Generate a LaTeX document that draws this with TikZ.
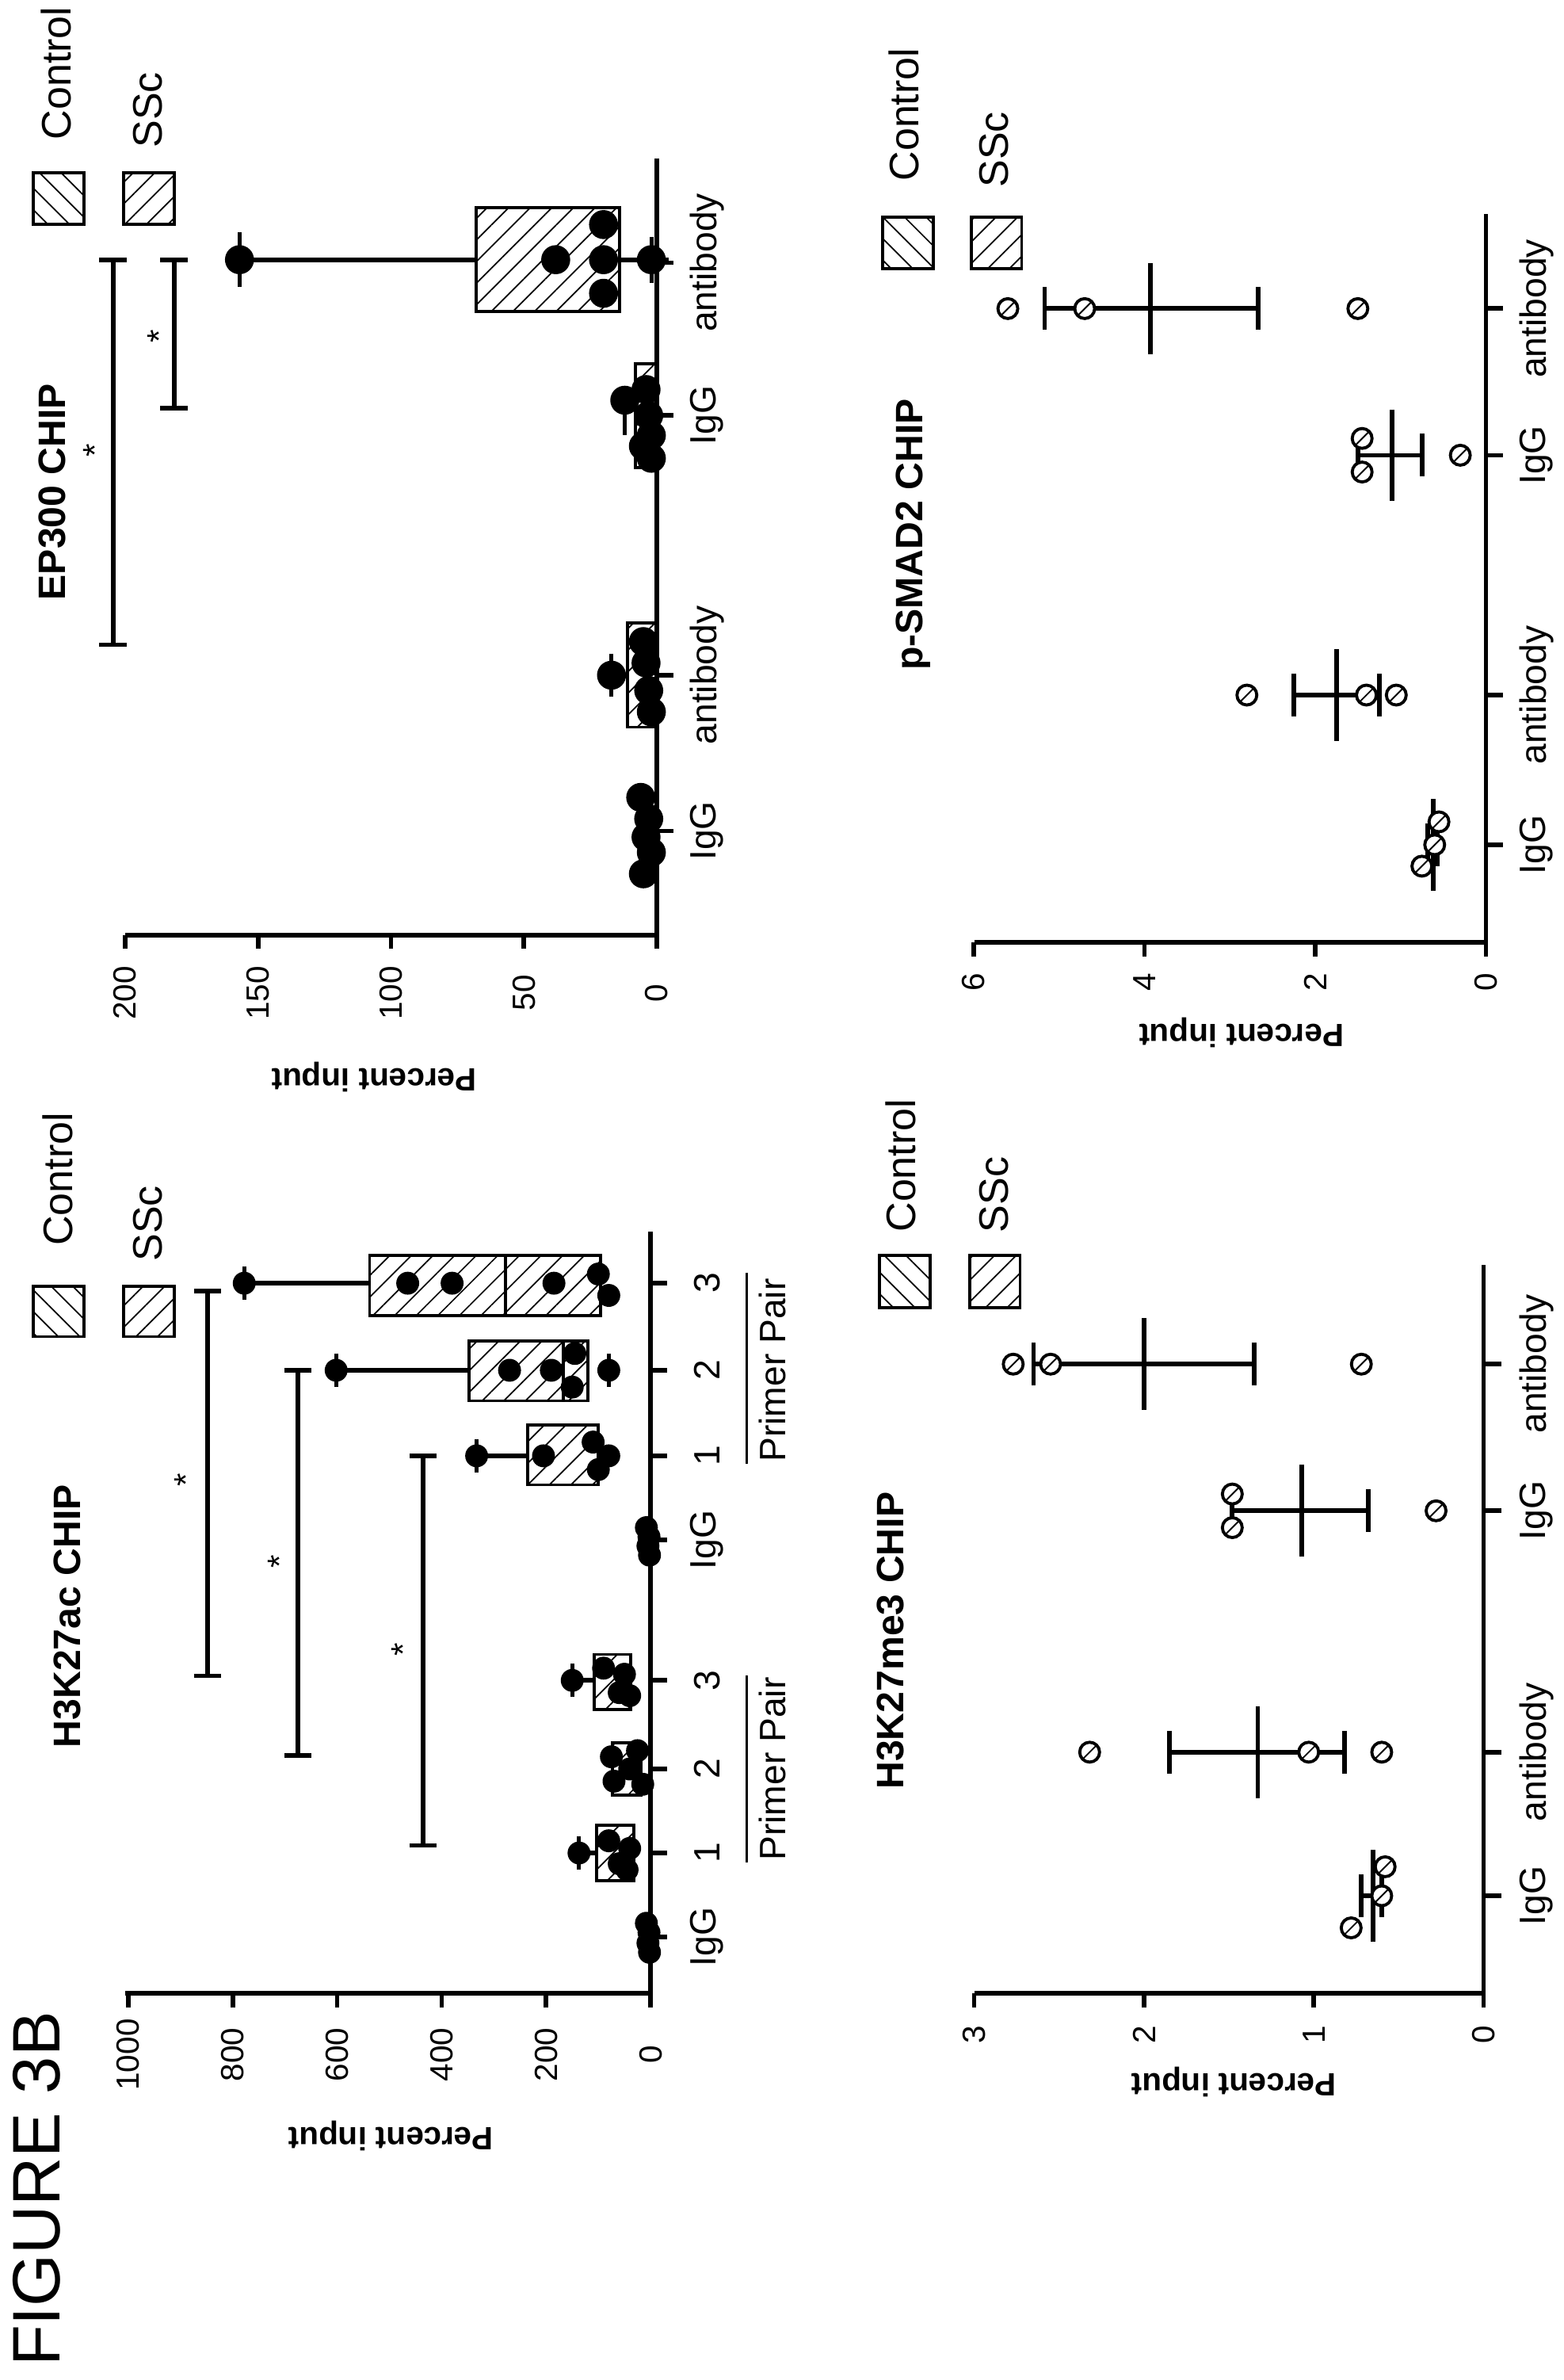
\documentclass[tikz,border=0pt]{standalone}
\usepackage{fontspec}
\setmainfont{Liberation Sans}
\usetikzlibrary{patterns.meta}
\begin{document}
\begin{tikzpicture}[x=1pt,y=-1pt,
  declare function={pA(\v)=426-0.342*\v; pB(\v)=430-1.74*\v; pC(\v)=971.5-111.2*\v; pD(\v)=973-55.9*\v;},
  ax/.style={line width=3pt},
  eb/.style={line width=3pt},
  lab/.style={font=\fontsize{24}{26}\selectfont, rotate=90},
  leg/.style={font=\fontsize{27}{29}\selectfont, rotate=90},
  tl/.style={font=\fontsize{21}{23}\selectfont, rotate=90},
  ttl/.style={font=\bfseries\fontsize{25}{28}\selectfont, rotate=90},
  yl/.style={font=\bfseries\fontsize{21}{23}\selectfont, rotate=180},
  dot/.style={circle, fill=black, inner sep=0pt, minimum size=15pt},
  bdot/.style={circle, fill=black, inner sep=0pt, minimum size=19pt},
  hc/.style={circle, draw=black, line width=2pt, fill=white, inner sep=0pt, minimum size=13pt,
     path picture={\draw[line width=1pt] (path picture bounding box.south west) -- (path picture bounding box.north east);}},
  ctl/.style={pattern={Lines[angle=-45,distance=10pt,line width=0.9pt]}},
  ssc/.style={pattern={Lines[angle=45,distance=10pt,line width=0.9pt]}},
  bx/.style={line width=2pt},
  star/.style={font=\fontsize{22}{24}\selectfont, rotate=90}
]
\useasboundingbox (0,0) rectangle (1024,1558);
\newcommand\mybar[5]{%
  \draw[eb] ({#1(#4)},#2) -- ({#1(#5)},#2);
  \draw[eb] ({#1(#3)},{#2-30}) -- ({#1(#3)},{#2+30});
  \draw[eb] ({#1(#4)},{#2-14}) -- ({#1(#4)},{#2+14});
  \draw[eb] ({#1(#5)},{#2-14}) -- ({#1(#5)},{#2+14});}
\newcommand\bracket[3]{% x, y1, y2
  \draw[eb] (#1,#2) -- (#1,#3);
  \draw[eb] ({#1-9},#2) -- ({#1+9},#2);
  \draw[eb] ({#1-9},#3) -- ({#1+9},#3);}
\newcommand\wend[3]{% fn, v, y : whisker end dot with cap
  \draw[line width=2.5pt] ({#1(#2)},{#3-11}) -- ({#1(#2)},{#3+11});
  \node[dot] at ({#1(#2)},#3) {};}

% ================= FIGURE label
\node[font=\fontsize{44}{48}\selectfont, rotate=90] (fig) at (24,1433) {FIGURE 3B};

% ================= Panel 1: H3K27ac
\draw[ax] (82,1305) -- (426,1305) -- (426,806);
\foreach \v/\t in {0/0,200/200,400/400,600/600,800/800,1000/1000}{
  \draw[ax] ({pA(\v)},1305) -- ({pA(\v)},1314);
  \node[tl] at ({pA(\v)},1345) {\t};}
\foreach \y/\t in {1268/IgG,1213/1,1158/2,1100/3,1008/IgG,953/1,897/2,840/3}{
  \draw[ax] (426,\y) -- (437,\y);
  \node[lab] at (463,\y) {\t};}
\node[lab] (pp1) at (506,1158) {Primer Pair};
\draw[line width=1.5pt] (489,1097) -- (489,1219);
\node[lab] (pp2) at (506,897) {Primer Pair};
\draw[line width=1.5pt] (489,833) -- (489,958);
\node[ttl] (t1) at (44,1058) {H3K27ac CHIP};
\node[yl] (y1) at (256,1398) {Percent input};
\draw[bx,ctl] (22,842) rectangle (55,875);
\draw[bx,ssc] (81,842) rectangle (114,875);
\node[leg] (c1) at (38,772) {Control};
\node[leg] (s1) at (97,801) {SSc};
\bracket{136}{845}{1097}\node[star] at (122,969) {*};
\bracket{195}{897}{1149}\node[star] at (183,1022) {*};
\bracket{277}{953}{1208}\node[star] at (264,1080) {*};
% left group
\foreach \v/\y in {8/1259,3/1265,5/1272,2/1278}{\node[dot] at ({pA(\v)},\y) {};}
\draw[bx,ssc] ({pA(103)},1195) rectangle ({pA(32)},1231);
\draw[eb] ({pA(137)},1213) -- ({pA(103)},1213);
\wend{pA}{137}{1213}
\foreach \v/\y in {80/1205,60/1220,40/1210,45/1224}{\node[dot] at ({pA(\v)},\y) {};}
\draw[bx,ssc] ({pA(73)},1141) rectangle ({pA(18)},1175);
\foreach \v/\y in {75/1150,70/1166,40/1158,25/1146,15/1168}{\node[dot] at ({pA(\v)},\y) {};}
\draw[bx,ssc] ({pA(108)},1083) rectangle ({pA(38)},1119);
\draw[eb] ({pA(150)},1100) -- ({pA(108)},1100);
\wend{pA}{150}{1100}
\foreach \v/\y in {90/1092,60/1108,50/1096,40/1110}{\node[dot] at ({pA(\v)},\y) {};}
% right group
\foreach \v/\y in {8/1000,3/1006,5/1012,2/1018}{\node[dot] at ({pA(\v)},\y) {};}
\draw[bx,ssc] ({pA(235)},933) rectangle ({pA(100)},972);
\draw[eb] ({pA(333)},953) -- ({pA(235)},953);
\wend{pA}{333}{953}
\foreach \v/\y in {205/953,110/944,100/962,80/953}{\node[dot] at ({pA(\v)},\y) {};}
\draw[bx,ssc] ({pA(348)},878) rectangle ({pA(120)},917);
\draw[bx] ({pA(167)},878) -- ({pA(167)},917);
\draw[eb] ({pA(602)},897) -- ({pA(348)},897);
\wend{pA}{602}{897}
\wend{pA}{80}{897}
\foreach \v/\y in {270/897,190/897,145/886,150/908}{\node[dot] at ({pA(\v)},\y) {};}
\draw[bx,ssc] ({pA(538)},822) rectangle ({pA(96)},861);
\draw[bx] ({pA(278)},822) -- ({pA(278)},861);
\draw[eb] ({pA(778)},840) -- ({pA(538)},840);
\wend{pA}{778}{840}
\foreach \v/\y in {465/840,380/840,185/840,100/834,80/848}{\node[dot] at ({pA(\v)},\y) {};}

% ================= Panel 2: EP300
\draw[ax] (82,612) -- (430,612) -- (430,104);
\foreach \v in {0,50,100,150,200}{
  \draw[ax] ({pB(\v)},612) -- ({pB(\v)},621);
  \node[tl] at ({pB(\v)},650) {\v};}
\foreach \y/\t in {544/IgG,442/antibody,272/IgG,172/antibody}{
  \draw[ax] (430,\y) -- (441,\y);
  \node[lab] at (463,\y) {\t};}
\node[ttl] (t2) at (34,322) {EP300 CHIP};
\node[yl] (y2) at (245,705) {Percent input};
\draw[bx,ctl] (22,113) rectangle (55,147);
\draw[bx,ssc] (81,113) rectangle (114,147);
\node[leg] (c2) at (37,48) {Control};
\node[leg] (s2) at (97,72) {SSc};
\bracket{74}{170}{422}\node[star] at (62,295) {*};
\bracket{114}{170}{267}\node[star] at (104,220) {*};
% data
\draw[bx,ssc] ({pB(68)},136) rectangle ({pB(14)},204);
\draw[eb] ({pB(157)},170) -- ({pB(68)},170);
\draw[eb] ({pB(14)},170) -- (438,170);
\draw[line width=2.5pt] ({pB(157)},152) -- ({pB(157)},188);
\node[bdot] at ({pB(157)},170) {};
\node[bdot] at ({pB(38)},170) {};
\foreach \y in {147,170,192}{\node[bdot] at ({pB(20)},\y) {};}
\draw[line width=2.5pt] ({pB(2)},155) -- ({pB(2)},185);
\node[bdot] at ({pB(2)},170) {};
\draw[bx,ssc] ({pB(8)},238) rectangle ({pB(0)},306);
\draw[line width=2.5pt] ({pB(12)},258) -- ({pB(12)},285);
\foreach \v/\y in {12/262,4/255,3/272,2/285,5/292,2/300}{\node[bdot] at ({pB(\v)},\y) {};}
\draw[bx,ssc] ({pB(11)},408) rectangle ({pB(0)},476);
\draw[line width=2.5pt] ({pB(17)},428) -- ({pB(17)},456);
\foreach \v/\y in {17/442,5/420,3/452,2/466,4/434}{\node[bdot] at ({pB(\v)},\y) {};}
\draw[line width=2.5pt] ({pB(6)},530) -- ({pB(6)},558);
\foreach \v/\y in {6/522,3/536,4/548,2/558,5/572}{\node[bdot] at ({pB(\v)},\y) {};}

% ================= Panel 3: H3K27me3
\draw[ax] (638,1305) -- (971.5,1305) -- (971.5,828);
\foreach \v in {0,1,2,3}{
  \draw[ax] ({pC(\v)},1305) -- ({pC(\v)},1314);
  \node[tl] at ({pC(\v)},1332) {\v};}
\foreach \y/\t in {1241/IgG,1147/antibody,989/IgG,893/antibody}{
  \draw[ax] (971.5,\y) -- (983,\y);
  \node[lab] at (1006,\y) {\t};}
\node[ttl] (t3) at (583,1074) {H3K27me3 CHIP};
\node[yl] (y3) at (808,1363) {Percent input};
\draw[bx,ctl] (576,822) rectangle (609,856);
\draw[bx,ssc] (635,822) rectangle (668,856);
\node[leg] (c3) at (590,763) {Control};
\node[leg] (s3) at (651,782) {SSc};
\mybar{pC}{1241}{0.65}{0.60}{0.72}
\foreach \v/\y in {0.58/1222,0.6/1241,0.78/1262}{\node[hc] at ({pC(\v)},\y) {};}
\mybar{pC}{1147}{1.33}{0.82}{1.85}
\foreach \v in {2.32,1.03,0.6}{\node[hc] at ({pC(\v)},1147) {};}
\mybar{pC}{989}{1.07}{0.68}{1.48}
\foreach \v/\y in {1.48/978,1.48/1000,0.28/989}{\node[hc] at ({pC(\v)},\y) {};}
\mybar{pC}{893}{2.0}{1.35}{2.65}
\foreach \v in {2.77,2.55,0.72}{\node[hc] at ({pC(\v)},893) {};}

% ================= Panel 4: p-SMAD2
\draw[ax] (638,617) -- (973,617) -- (973,140);
\foreach \v in {0,2,4,6}{
  \draw[ax] ({pD(\v)},617) -- ({pD(\v)},626);
  \node[tl] at ({pD(\v)},643) {\v};}
\foreach \y/\t in {553/IgG,455/antibody,298/IgG,202/antibody}{
  \draw[ax] (973,\y) -- (984,\y);
  \node[lab] at (1006,\y) {\t};}
\node[ttl] (t4) at (598,350) {p-SMAD2 CHIP};
\node[yl] (y4) at (813,676) {Percent input};
\draw[bx,ctl] (578,142) rectangle (611,176);
\draw[bx,ssc] (636,142) rectangle (669,176);
\node[leg] (c4) at (592,75) {Control};
\node[leg] (s4) at (651,98) {SSc};
\mybar{pD}{202}{3.93}{2.67}{5.17}
\foreach \v in {5.6,4.7,1.5}{\node[hc] at ({pD(\v)},202) {};}
\mybar{pD}{298}{1.1}{0.75}{1.5}
\foreach \v/\y in {1.45/287,1.45/309,0.3/298}{\node[hc] at ({pD(\v)},\y) {};}
\mybar{pD}{455}{1.75}{1.25}{2.25}
\foreach \v in {2.8,1.4,1.05}{\node[hc] at ({pD(\v)},455) {};}
\mybar{pD}{553}{0.62}{0.57}{0.68}
\foreach \v/\y in {0.75/567,0.6/553,0.55/538}{\node[hc] at ({pD(\v)},\y) {};}
\end{tikzpicture}
\end{document}
